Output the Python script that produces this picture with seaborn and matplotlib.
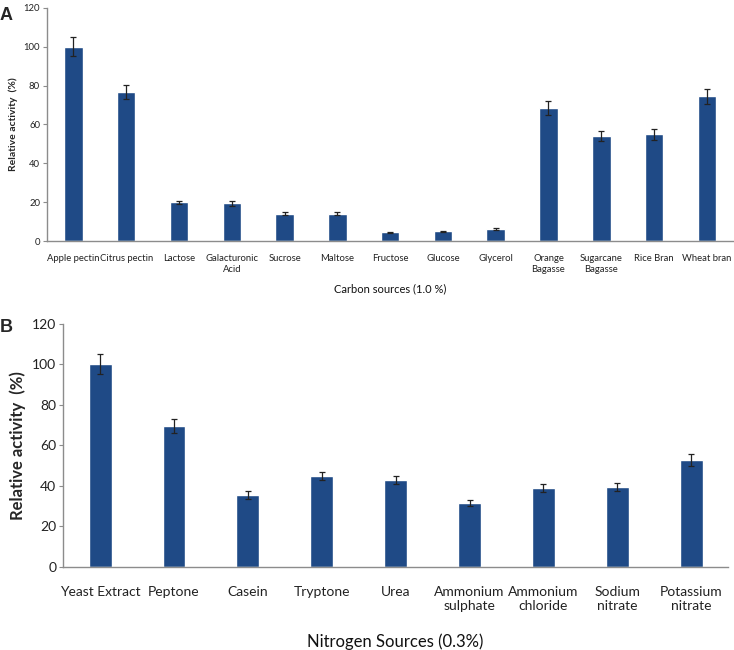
import matplotlib
matplotlib.use("Agg")
import matplotlib.pyplot as plt
import seaborn as sns
import numpy as np
import pandas as pd

# Panel A: carbon sources (1.0 %)
carbon = ["Apple pectin", "Citrus pectin", "Lactose", "Galacturonic\nAcid", "Sucrose",
          "Maltose", "Fructose", "Glucose", "Glycerol", "Orange\nBagasse",
          "Sugarcane\nBagasse", "Rice Bran", "Wheat bran"]
carbon_act = [100, 76.8, 19.9, 19.4, 14.1, 14.0, 4.6, 5.1, 6.2, 68.3, 54.2, 54.9, 74.4]
carbon_err = [5.0, 3.6, 1.0, 1.2, 0.8, 0.8, 0.3, 0.3, 0.4, 3.6, 2.6, 2.7, 3.8]

# Panel B: nitrogen sources (0.3%)
nitrogen = ["Yeast Extract", "Peptone", "Casein", "Tryptone", "Urea",
            "Ammonium\nsulphate", "Ammonium\nchloride", "Sodium\nnitrate", "Potassium\nnitrate"]
nitrogen_act = [100, 69.4, 35.4, 44.8, 42.8, 31.5, 38.9, 39.4, 52.9]
nitrogen_err = [5.0, 3.5, 2.0, 2.0, 2.0, 1.3, 2.0, 2.0, 3.0]

bar_color = "#1F4A86"
axis_color = "#8c8c8c"

sns.set_style("white")
plt.rcParams["font.family"] = ["Lato", "DejaVu Sans"]

fig = plt.figure(figsize=(7.34, 6.5), dpi=100)
ax_a = fig.add_axes([0.064, 0.629, 0.935, 0.359])
ax_b = fig.add_axes([0.086, 0.128, 0.906, 0.374])


def draw_panel(ax, cats, vals, errs, width, tick_fs, ylab_fs, xlab, xlab_fs, tick_pad, xlab_pad):
    df = pd.DataFrame({"source": cats, "activity": vals})
    sns.barplot(data=df, x="source", y="activity", color=bar_color, saturation=1,
                width=width, errorbar=None, ax=ax)
    ax.errorbar(np.arange(len(cats)), vals, yerr=errs, fmt="none", ecolor="#222222",
                elinewidth=0.9, capsize=2.5, capthick=0.9)
    ax.set_xlim(-0.5, len(cats) - 0.5)
    ax.set_ylim(0, 120)
    ax.set_yticks(range(0, 121, 20))
    sns.despine(ax=ax)
    for side in ("left", "bottom"):
        ax.spines[side].set_color(axis_color)
        ax.spines[side].set_linewidth(1.0)
    ax.tick_params(axis="y", which="both", left=True, length=3, color=axis_color,
                   labelsize=tick_fs, pad=2, labelcolor="#222222")
    ax.tick_params(axis="x", bottom=False, labelsize=tick_fs, pad=tick_pad, labelcolor="#222222")
    ax.set_xlabel(xlab, fontsize=xlab_fs, labelpad=xlab_pad, color="#111111")
    ax.set_ylabel("Relative activity  (%)", fontsize=ylab_fs, fontweight="bold", labelpad=4)


draw_panel(ax_a, carbon, carbon_act, carbon_err, 0.35, 6.8, 7.5,
           "Carbon sources (1.0 %)", 8, 6, 7)
draw_panel(ax_b, nitrogen, nitrogen_act, nitrogen_err, 0.31, 10, 12,
           "Nitrogen Sources (0.3%)", 12, 10, 16)

fig.text(0.0, 0.99, "A", fontsize=13, fontweight="bold", va="top", ha="left",
         family="Liberation Sans")
fig.text(0.0, 0.51, "B", fontsize=13, fontweight="bold", va="top", ha="left",
         family="Liberation Sans")

fig.savefig("out.png", dpi=100)
